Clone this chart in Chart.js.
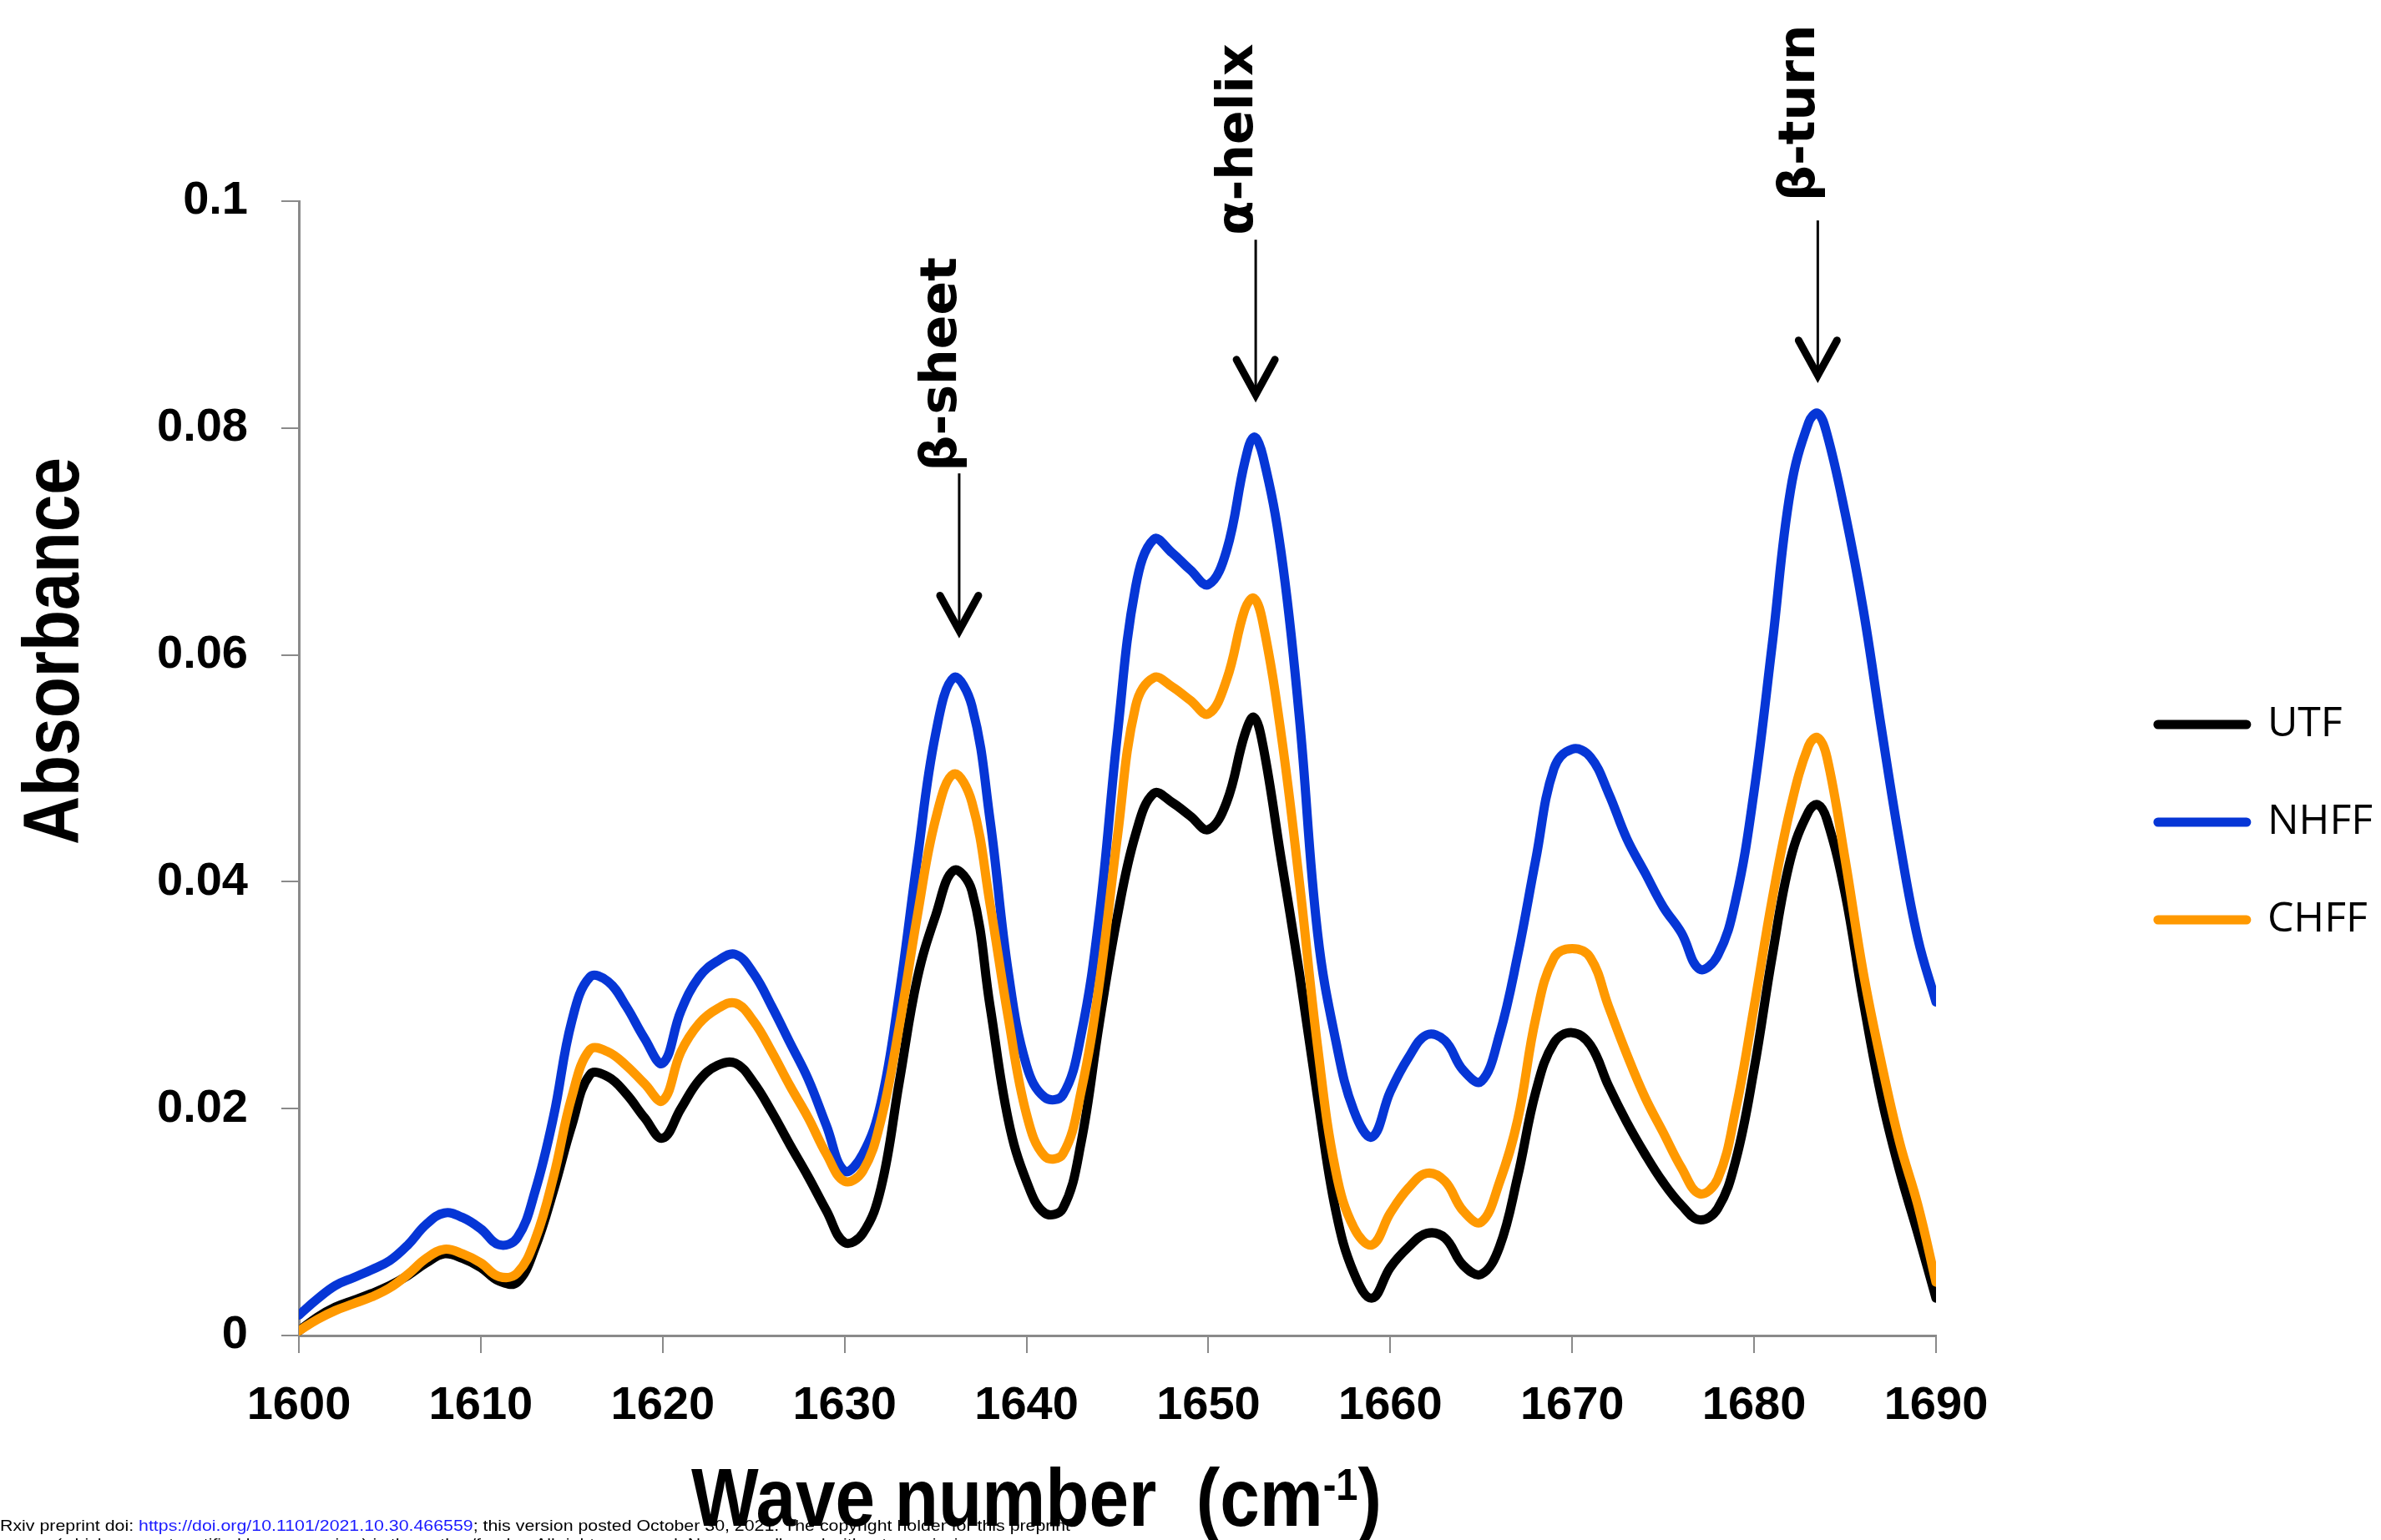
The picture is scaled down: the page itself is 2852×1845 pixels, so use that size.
<!DOCTYPE html>
<html>
<head>
<meta charset="utf-8">
<script src="https://cdn.jsdelivr.net/npm/chart.js@4.4.1/dist/chart.umd.min.js"></script>
<style>
  html, body { margin: 0; padding: 0; background: #fff; }
  #wrap { width: 2852px; height: 1845px; position: relative; }
</style>
</head>
<body>
<div id="wrap"><canvas id="ftirChart"></canvas></div>
<script>
// wave numbers (cm-1), shared by the three spectra
const waveNumbers = [
  1600, 1601, 1602, 1603, 1604, 1605, 1606, 1607, 1608, 1609,
  1610, 1611, 1612, 1613, 1614, 1615, 1616, 1617, 1618, 1619,
  1620, 1621, 1622, 1623, 1624, 1625, 1626, 1627, 1628, 1629,
  1630, 1631, 1632, 1633, 1634, 1635, 1636, 1637, 1638, 1639,
  1640, 1641, 1642, 1643, 1644, 1645, 1646, 1647, 1648, 1649,
  1650, 1651, 1652, 1652.5, 1653, 1654, 1655, 1656, 1657, 1658, 1659,
  1660, 1661, 1662, 1663, 1664, 1665, 1666, 1667, 1668, 1669,
  1670, 1671, 1672, 1673, 1674, 1675, 1676, 1677, 1678, 1679,
  1680, 1681, 1682, 1683, 1683.5, 1684, 1685, 1686, 1687, 1688, 1689,
  1690
];

const utf = [
  0.0004, 0.0016, 0.0025, 0.0031, 0.0037, 0.0044, 0.0053, 0.0064, 0.0072, 0.0068,
  0.0060, 0.0048, 0.0047, 0.0078, 0.0128, 0.0185, 0.0230, 0.0228, 0.0213, 0.0192,
  0.0174, 0.0200, 0.0225, 0.0238, 0.0240, 0.0223, 0.0197, 0.0168, 0.0140, 0.0110,
  0.0082, 0.0090, 0.0130, 0.0223, 0.0315, 0.0370, 0.0410, 0.0392, 0.0290, 0.0190,
  0.0136, 0.0108, 0.0112, 0.0170, 0.0275, 0.0370, 0.0442, 0.0478, 0.0470, 0.0458,
  0.0446, 0.0470, 0.0530, 0.0545, 0.0520, 0.0420, 0.0320, 0.0210, 0.0110, 0.0055, 0.0033,
  0.0060, 0.0078, 0.0090, 0.0086, 0.0062, 0.0054, 0.0078, 0.0140, 0.0215, 0.0258,
  0.0267, 0.0256, 0.0220, 0.0188, 0.0160, 0.0135, 0.0115, 0.0102, 0.0112, 0.0155,
  0.0235, 0.0335, 0.0420, 0.0462, 0.0468, 0.0455, 0.0390, 0.0295, 0.0210, 0.0145, 0.0090,
  0.0033
];

const nhff = [
  0.0018, 0.0032, 0.0044, 0.0051, 0.0058, 0.0066, 0.0080, 0.0098, 0.0108, 0.0104,
  0.0094, 0.0080, 0.0086, 0.0128, 0.0193, 0.0277, 0.0316, 0.0312, 0.0290, 0.0262,
  0.0240, 0.0286, 0.0316, 0.0330, 0.0336, 0.0319, 0.0290, 0.0258, 0.0226, 0.0185,
  0.0145, 0.0160, 0.0205, 0.0300, 0.0420, 0.0530, 0.0580, 0.0555, 0.0454, 0.0320,
  0.0238, 0.0210, 0.0212, 0.0265, 0.0370, 0.0530, 0.0660, 0.0702, 0.0690, 0.0675,
  0.0662, 0.0692, 0.0770, 0.0792, 0.0775, 0.0690, 0.0545, 0.0355, 0.0260, 0.0198, 0.0175,
  0.0215, 0.0245, 0.0265, 0.0260, 0.0234, 0.0224, 0.0265, 0.0335, 0.0420, 0.0500,
  0.0517, 0.0510, 0.0478, 0.0438, 0.0408, 0.0378, 0.0355, 0.0323, 0.0335, 0.0385,
  0.0480, 0.0610, 0.0745, 0.0805, 0.0813, 0.0795, 0.0725, 0.0640, 0.0535, 0.0435, 0.0350,
  0.0294
];

const chff = [
  0.0004, 0.0014, 0.0022, 0.0028, 0.0034, 0.0042, 0.0054, 0.0068, 0.0076, 0.0072,
  0.0064, 0.0052, 0.0055, 0.0085, 0.0140, 0.0210, 0.0252, 0.0250, 0.0238, 0.0222,
  0.0207, 0.0250, 0.0275, 0.0288, 0.0293, 0.0277, 0.0250, 0.0220, 0.0192, 0.0160,
  0.0136, 0.0145, 0.0190, 0.0272, 0.0370, 0.0455, 0.0495, 0.0470, 0.0380, 0.0280,
  0.0195, 0.0158, 0.0160, 0.0215, 0.0310, 0.0440, 0.0555, 0.0580, 0.0572, 0.0560,
  0.0548, 0.0578, 0.0640, 0.0650, 0.0628, 0.0530, 0.0400, 0.0255, 0.0145, 0.0095, 0.0080,
  0.0108, 0.0130, 0.0143, 0.0136, 0.0110, 0.0100, 0.0135, 0.0190, 0.0280, 0.0333,
  0.0341, 0.0333, 0.0290, 0.0248, 0.0210, 0.0179, 0.0148, 0.0125, 0.0138, 0.0200,
  0.0290, 0.0385, 0.0465, 0.0520, 0.0527, 0.0510, 0.0420, 0.0320, 0.0240, 0.0170, 0.0115,
  0.0047
];

const seriesNames = ['UTF', 'NHFF', 'CHFF'];
const seriesColors = ['#000000', '#0636d6', '#ff9900'];

// band assignments marked with arrows (in data units)
const peakLabels = ['β-sheet', 'α-helix', 'β-turn'];
const peakWave = [1636.3, 1652.6, 1683.5];
const peakTextEnd = [0.0762, 0.0970, 0.1000];
const peakShaftTop = [0.0760, 0.0966, 0.0983];
const peakTip = [0.0617, 0.0825, 0.0842];

const toPoints = vals => waveNumbers.map((w, i) => ({ x: w, y: vals[i] }));

const tickFont = { family: '"Liberation Sans", Arial, sans-serif', size: 56, weight: 'bold' };
const axisGrey = '#8a8a8a';

// axis titles, arrows and the preprint footer
const extras = {
  id: 'extras',
  afterDraw(chart) {
    const { ctx, scales: { x, y } } = chart;
    ctx.save();
    ctx.fillStyle = '#000';
    ctx.strokeStyle = '#000';

    peakLabels.forEach((label, i) => {
      const px = x.getPixelForValue(peakWave[i]);
      const yTop = y.getPixelForValue(peakShaftTop[i]);
      const yTip = y.getPixelForValue(peakTip[i]);
      const yText = y.getPixelForValue(peakTextEnd[i]);
      ctx.lineWidth = 3;
      ctx.lineCap = 'butt';
      ctx.beginPath();
      ctx.moveTo(px, yTop);
      ctx.lineTo(px, yTip - 6);
      ctx.stroke();
      ctx.lineWidth = 9;
      ctx.lineCap = 'round';
      ctx.lineJoin = 'miter';
      ctx.beginPath();
      ctx.moveTo(px - 23, yTip - 48);
      ctx.lineTo(px, yTip - 6);
      ctx.lineTo(px + 23, yTip - 48);
      ctx.stroke();

      ctx.save();
      ctx.translate(px - 4, yText);
      ctx.rotate(-Math.PI / 2);
      ctx.font = 'bold 60px "DejaVu Sans", sans-serif';
      ctx.textAlign = 'left';
      ctx.textBaseline = 'alphabetic';
      ctx.fillText(label, 0, 0);
      ctx.restore();
    });

    // y title
    ctx.save();
    ctx.font = 'bold 94px "Liberation Sans Narrow", "Liberation Sans", Arial, sans-serif';
    const yw = ctx.measureText('Absorbance').width;
    ctx.translate(94, 780);
    ctx.rotate(-Math.PI / 2);
    ctx.scale(464 / yw, 1);
    ctx.textAlign = 'center';
    ctx.textBaseline = 'alphabetic';
    ctx.fillText('Absorbance', 0, 0);
    ctx.restore();

    // x title with superscript
    ctx.save();
    const mainFont = 'bold 98px "Liberation Sans Narrow", "Liberation Sans", Arial, sans-serif';
    const supFont = 'bold 54px "Liberation Sans Narrow", "Liberation Sans", Arial, sans-serif';
    ctx.font = mainFont;
    const w1 = ctx.measureText('Wave number  (cm').width;
    const w3 = ctx.measureText(')').width;
    ctx.font = supFont;
    const w2 = ctx.measureText('-1').width;
    const k = 827 / (w1 + w2 + w3);
    ctx.translate(828, 1828);
    ctx.scale(k, 1);
    ctx.textAlign = 'left';
    ctx.textBaseline = 'alphabetic';
    ctx.font = mainFont;
    ctx.fillText('Wave number  (cm', 0, 0);
    ctx.fillText(')', w1 + w2, 0);
    ctx.font = supFont;
    ctx.fillText('-1', w1, -31);
    ctx.restore();

    // preprint footer
    ctx.save();
    ctx.font = '19px "Liberation Sans", Arial, sans-serif';
    ctx.textBaseline = 'alphabetic';
    ctx.textAlign = 'left';
    const pre = 'bioRxiv preprint doi: ';
    const link = 'https://doi.org/10.1101/2021.10.30.466559';
    const post = '; this version posted October 30, 2021. The copyright holder for this preprint';
    const cut = ctx.measureText('bio').width;
    const full = ctx.measureText(pre + link + post).width;
    const fk = 1282 / (full - cut);
    ctx.translate(-cut * fk, 1834);
    ctx.scale(fk, 1);
    const wPre = ctx.measureText(pre).width;
    const wLink = ctx.measureText(link).width;
    ctx.fillStyle = '#000';
    ctx.fillText(pre, 0, 0);
    ctx.fillStyle = '#1a1aff';
    ctx.fillText(link, wPre, 0);
    ctx.fillStyle = '#000';
    ctx.fillText(post, wPre + wLink, 0);
    ctx.fillText('(which was not certified by peer review) is the author/funder. All rights reserved. No reuse allowed without permission.', (67 / fk) + cut, 22);
    ctx.restore();

    ctx.restore();
  }
};

const ctx = document.getElementById('ftirChart').getContext('2d');
const ftirChart = new Chart(ctx, {
  type: 'line',
  data: {
    datasets: [utf, nhff, chff].map((vals, i) => ({
      label: seriesNames[i],
      data: toPoints(vals),
      borderColor: seriesColors[i],
      backgroundColor: seriesColors[i],
      borderWidth: 11,
      borderCapStyle: 'round',
      borderJoinStyle: 'round',
      pointRadius: 0,
      tension: 0.4,
      fill: false,
      order: 2 - i // CHFF drawn on top, UTF at the bottom
    }))
  },
  options: {
    responsive: true,
    maintainAspectRatio: false,
    animation: false,
    events: [],
    layout: { padding: { top: 241, bottom: 116, left: 0, right: 0 } },
    scales: {
      x: {
        type: 'linear',
        min: 1600,
        max: 1690,
        grid: { drawOnChartArea: false, tickLength: 21, color: axisGrey, lineWidth: 2 },
        border: { color: axisGrey, width: 3 },
        ticks: {
          stepSize: 10,
          padding: 30,
          color: '#000',
          font: tickFont,
          maxRotation: 0,
          callback: v => String(v)
        },
        afterFit: s => { s.height = 129; }
      },
      y: {
        min: 0,
        max: 0.1,
        grid: { drawOnChartArea: false, tickLength: 21, color: axisGrey, lineWidth: 2 },
        border: { color: axisGrey, width: 3 },
        ticks: {
          stepSize: 0.02,
          padding: 40,
          color: '#000',
          font: tickFont,
          callback: v => String(+v.toFixed(2))
        },
        afterFit: s => { s.width = 358; }
      },
      gap: {
        type: 'linear',
        position: 'right',
        grid: { display: false },
        border: { display: false },
        ticks: { display: false },
        afterFit: s => { s.width = Math.max(0, 533 - s.chart.legend.width); }
      }
    },
    plugins: {
      tooltip: { enabled: false },
      legend: {
        position: 'right',
        labels: {
          usePointStyle: true,
          pointStyle: 'line',
          pointStyleWidth: 106,
          padding: 67,
          color: '#000',
          font: { family: '"Open Sans", sans-serif', size: 50 },
          generateLabels: chart => chart.data.datasets.map((ds, i) => ({
            text: ds.label,
            fillStyle: ds.borderColor,
            strokeStyle: ds.borderColor,
            fontColor: '#000',
            lineWidth: 11,
            lineCap: 'round',
            pointStyle: 'line',
            hidden: false,
            datasetIndex: i
          }))
        }
      }
    }
  },
  plugins: [extras]
});
</script>
</body>
</html>
